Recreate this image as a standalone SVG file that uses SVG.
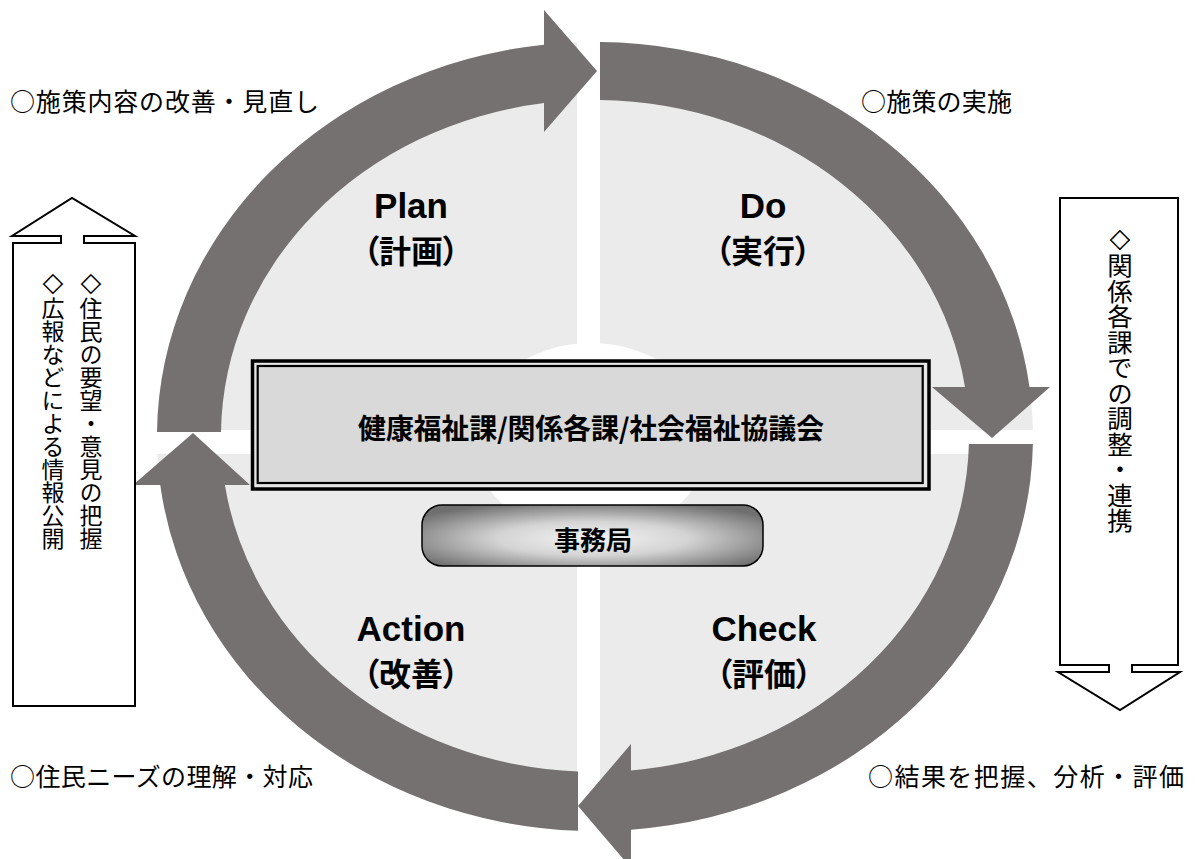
<svg xmlns="http://www.w3.org/2000/svg" width="1196" height="859" viewBox="0 0 1196 859">
<style>
.jp{font-family:"Noto Sans CJK JP","Noto Sans CJK SC",sans-serif;fill:#000}
.corner{font-size:25px}
.phase{font-family:"Liberation Sans",Arial,sans-serif;font-weight:bold;font-size:35px;text-anchor:middle;fill:#000}
.phasejp{font-family:"Noto Sans CJK JP",sans-serif;font-weight:bold;font-size:32px;text-anchor:middle;font-feature-settings:"palt";dominant-baseline:central;fill:#000}
.arrow{fill:#767171}
.side{fill:#fff;stroke:#000;stroke-width:2}
.vert{writing-mode:vertical-rl;text-orientation:upright}
.dia{font-family:"DejaVu Sans",sans-serif;font-size:27px}
</style>
<defs>
<radialGradient id="btn" cx="50%" cy="55%" r="62%">
<stop offset="0" stop-color="#f4f4f4"/>
<stop offset="0.45" stop-color="#d4d4d4"/>
<stop offset="1" stop-color="#6f6f6f"/>
</radialGradient>
</defs>
<rect width="1196" height="859" fill="#fff"/>
<g id="background">
<ellipse cx="595" cy="436.5" rx="438" ry="394.5" fill="#ebebeb"/>
<rect x="577" y="0" width="23" height="859" fill="#fff"/>
<rect x="0" y="430" width="1196" height="24" fill="#fff"/>
<ellipse cx="591" cy="440" rx="118" ry="97" fill="#fff"/>
</g>
<g id="connectors">
<path class="arrow" d="M157,432 A438 394.5 0 0 1 544,44.7 L544,10 L597,71 L544,132 L544,103.1 A374 336 0 0 0 221,432 Z"/>
<path class="arrow" d="M600,42 A438 394.5 0 0 1 1029.5,387 L1050,387 L992,438 L932,387 L965,387 A374 336 0 0 0 600,100 Z"/>
<path class="arrow" d="M1032.9,444 A438 394.5 0 0 1 631,829.7 L631,868 L578,806 L631,744 L631,770.5 A374 336 0 0 0 968.9,444 Z"/>
<path class="arrow" d="M578,830.7 A438 394.5 0 0 1 160.3,485 L133,485 L193,433 L250,485 L224.9,485 A374 336 0 0 0 578,771.6 Z"/>
</g>
<g id="plan">
<text class="phase" x="411" y="218">Plan</text>
<text class="phasejp" x="411" y="249">（計画）</text>
</g>
<g id="do">
<text class="phase" x="763" y="218">Do</text>
<text class="phasejp" x="763" y="249">（実行）</text>
</g>
<g id="action">
<text class="phase" x="411" y="641">Action</text>
<text class="phasejp" x="411" y="672">（改善）</text>
</g>
<g id="check">
<text class="phase" x="764" y="641">Check</text>
<text class="phasejp" x="764" y="672">（評価）</text>
</g>
<g id="center-box">
<rect x="252.5" y="361" width="676.5" height="128" fill="#e6e6e6" stroke="#000" stroke-width="3.5"/>
<rect x="257.7" y="366" width="665" height="117" fill="#d9d9d9" stroke="#000" stroke-width="2.2"/>
<text class="jp" x="591" y="427" font-size="28" font-weight="bold" text-anchor="middle" dominant-baseline="central" textLength="466" lengthAdjust="spacing">健康福祉課/関係各課/社会福祉協議会</text>
</g>
<g id="secretariat">
<rect x="422" y="505" width="341" height="61" rx="20" fill="url(#btn)" stroke="#000" stroke-width="1.5"/>
<text class="jp" x="593" y="538" font-size="26" font-weight="bold" text-anchor="middle" dominant-baseline="central">事務局</text>
</g>
<g id="label-tl"><text class="jp corner" x="10" y="100" dominant-baseline="central" textLength="309" lengthAdjust="spacing">○施策内容の改善・見直し</text></g>
<g id="label-tr"><text class="jp corner" x="861" y="100" dominant-baseline="central" textLength="151" lengthAdjust="spacing">○施策の実施</text></g>
<g id="label-bl"><text class="jp corner" x="10" y="775" dominant-baseline="central" textLength="303" lengthAdjust="spacing">○住民ニーズの理解・対応</text></g>
<g id="label-br"><text class="jp corner" x="868" y="775" dominant-baseline="central" textLength="316" lengthAdjust="spacing">○結果を把握、分析・評価</text></g>
<g id="left-arrow">
<path class="side" d="M13,706 L13,243 L61,243 L61,236 L12,236 L72,198 L135,236 L84,236 L84,243 L135,243 L135,706 Z"/>
<text class="jp vert" x="91" y="266" font-size="23"><tspan class="dia">◇</tspan>住民の要望・意見の把握</text>
<text class="jp vert" x="53" y="266" font-size="23"><tspan class="dia">◇</tspan>広報などによる情報公開</text>
</g>
<g id="right-arrow">
<path class="side" d="M1060,198 L1178,198 L1178,665 L1132,665 L1132,672 L1180,672 L1120,710 L1058,672 L1109,672 L1109,665 L1060,665 Z"/>
<text class="jp vert" x="1120" y="222" font-size="25.5"><tspan class="dia">◇</tspan>関係各課での調整・連携</text>
</g>
</svg>
